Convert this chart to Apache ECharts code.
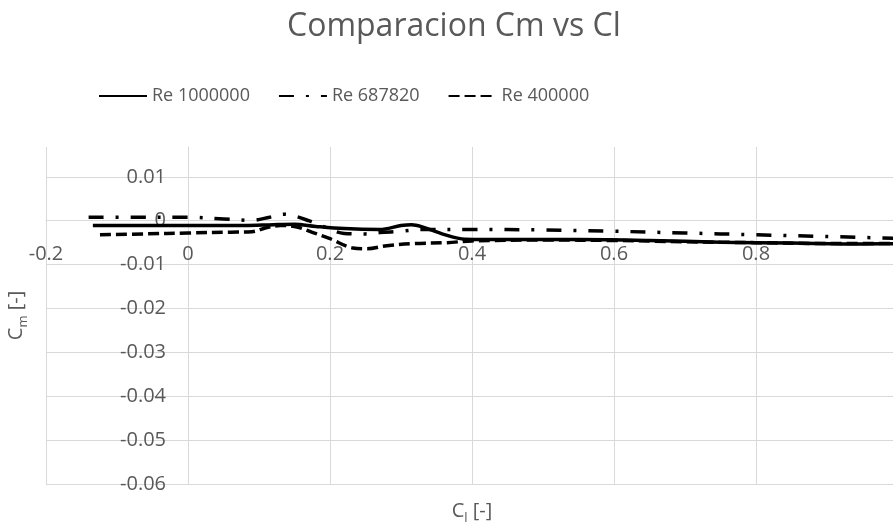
<!DOCTYPE html>
<html>
<head>
<meta charset="utf-8">
<script src="https://cdn.jsdelivr.net/npm/echarts@6/dist/echarts.min.js"></script>
<style>html,body{margin:0;padding:0;background:#fff}#c{width:893px;height:523px}</style>
</head>
<body>
<div id="c"></div>
<script>
const seriesNames = ['Re 1000000', 'Re 687820', 'Re 400000'];
const xTicks = [-0.2, 0, 0.2, 0.4, 0.6, 0.8, 1.0];
const yTicks = [-0.06, -0.05, -0.04, -0.03, -0.02, -0.01, 0, 0.01];

const cl1 = [-0.134, -0.08, 0, 0.08, 0.12, 0.15, 0.18, 0.22, 0.27, 0.3, 0.315, 0.33, 0.36, 0.39, 0.45, 0.55, 0.65, 0.75, 0.85, 0.95, 1.02];
const cm1 = [-0.0011, -0.0011, -0.0011, -0.0011, -0.0009, -0.0008, -0.0013, -0.0018, -0.002, -0.0011, -0.0009, -0.0014, -0.0031, -0.0042, -0.0043, -0.0043, -0.0045, -0.0049, -0.0051, -0.0053, -0.0052];

const cl2 = [-0.14, -0.08, 0, 0.05, 0.09, 0.115, 0.135, 0.15, 0.17, 0.19, 0.22, 0.25, 0.27, 0.3, 0.33, 0.4, 0.5, 0.6, 0.7, 0.8, 0.9, 1.02];
const cm2 = [0.0008, 0.0008, 0.0008, 0.0004, 0.0001, 0.0008, 0.0015, 0.0011, 0.0, -0.0013, -0.0029, -0.003, -0.0027, -0.0024, -0.002, -0.002, -0.0021, -0.0024, -0.0028, -0.0032, -0.0036, -0.0041];

const cl3 = [-0.124, -0.06, 0, 0.06, 0.09, 0.11, 0.13, 0.15, 0.176, 0.2, 0.232, 0.252, 0.28, 0.317, 0.365, 0.4, 0.5, 0.6, 0.7, 0.8, 0.9, 1.02];
const cm3 = [-0.0032, -0.003, -0.0028, -0.0026, -0.0025, -0.0016, -0.0011, -0.0013, -0.0027, -0.0041, -0.0062, -0.0064, -0.0057, -0.0052, -0.005, -0.0046, -0.0044, -0.0045, -0.0048, -0.005, -0.0052, -0.0052];

const pairs = (xs, ys) => xs.map((x, i) => [x, ys[i]]);
const FONT = '"Open Sans", sans-serif';
const GREY = '#595959';
const GRID = '#d9d9d9';

const chart = echarts.init(document.getElementById('c'), null, {renderer: 'canvas'});
chart.setOption({
  animation: false,
  backgroundColor: '#fff',
  textStyle: {fontFamily: FONT, color: GREY},
  title: {
    text: 'Comparacion Cm vs Cl',
    left: 287,
    top: 11,
    padding: 0,
    textStyle: {fontFamily: FONT, fontSize: 32, fontWeight: 'normal', color: GREY}
  },
  legend: {
    left: 98,
    top: 87,
    padding: 0,
    itemWidth: 48,
    itemHeight: 14,
    itemGap: 28,
    itemStyle: {opacity: 0},
    textStyle: {fontFamily: FONT, fontSize: 18, color: GREY},
    data: seriesNames
  },
  grid: {left: 46, top: 147, width: 852, height: 337, containLabel: false, outerBoundsMode: 'none'},
  xAxis: {
    type: 'value',
    min: xTicks[0],
    max: xTicks[xTicks.length - 1],
    interval: 0.2,
    position: 'bottom',
    offset: -264,
    name: '{c|C}{s|l}{c| [-]}',
    nameLocation: 'middle',
    nameGap: 278,
    nameTextStyle: {
      rich: {
        c: {fontFamily: FONT, fontSize: 20, color: GREY},
        s: {fontFamily: FONT, fontSize: 13, color: GREY, padding: [14, 0, 0, 0]}
      }
    },
    axisLine: {show: true, onZero: false, lineStyle: {color: GRID, width: 1}},
    axisTick: {show: false},
    axisLabel: {
      fontFamily: FONT, fontSize: 20, color: GREY, margin: 24,
      formatter: v => (Math.abs(v) < 1e-9 ? '0' : (+v.toFixed(1)).toString())
    },
    splitLine: {show: true, lineStyle: {color: GRID, width: 1}}
  },
  yAxis: {
    type: 'value',
    min: yTicks[0],
    max: 0.0168,
    interval: 0.01,
    position: 'left',
    offset: -142,
    name: '{c|C}{s|m}{c| [-]}',
    nameLocation: 'middle',
    nameGap: 158,
    nameRotate: 90,
    nameTextStyle: {
      rich: {
        c: {fontFamily: FONT, fontSize: 20, color: GREY},
        s: {fontFamily: FONT, fontSize: 13, color: GREY, padding: [14, 0, 0, 0]}
      }
    },
    axisLine: {show: true, onZero: false, lineStyle: {color: GRID, width: 1}},
    axisTick: {show: false},
    axisLabel: {
      fontFamily: FONT, fontSize: 20, color: GREY, margin: 22, showMaxLabel: false,
      formatter: v => (Math.abs(v) < 1e-9 ? '0' : (+v.toFixed(2)).toString())
    },
    splitLine: {show: true, showMaxLine: false, lineStyle: {color: GRID, width: 1}}
  },
  series: [
    {
      name: seriesNames[0], type: 'line', data: pairs(cl1, cm1), smooth: 0.35,
      symbol: 'none', color: '#000',
      lineStyle: {color: '#000', width: 3.5, type: 'solid'}
    },
    {
      name: seriesNames[1], type: 'line', data: pairs(cl2, cm2), smooth: 0.35,
      symbol: 'none', color: '#000',
      lineStyle: {color: '#000', width: 3.5, type: [15, 12, 3, 12], cap: 'butt'}
    },
    {
      name: seriesNames[2], type: 'line', data: pairs(cl3, cm3), smooth: 0.35,
      symbol: 'none', color: '#000',
      lineStyle: {color: '#000', width: 3.5, type: [11, 5], cap: 'butt'}
    }
  ]
});
</script>
</body>
</html>
